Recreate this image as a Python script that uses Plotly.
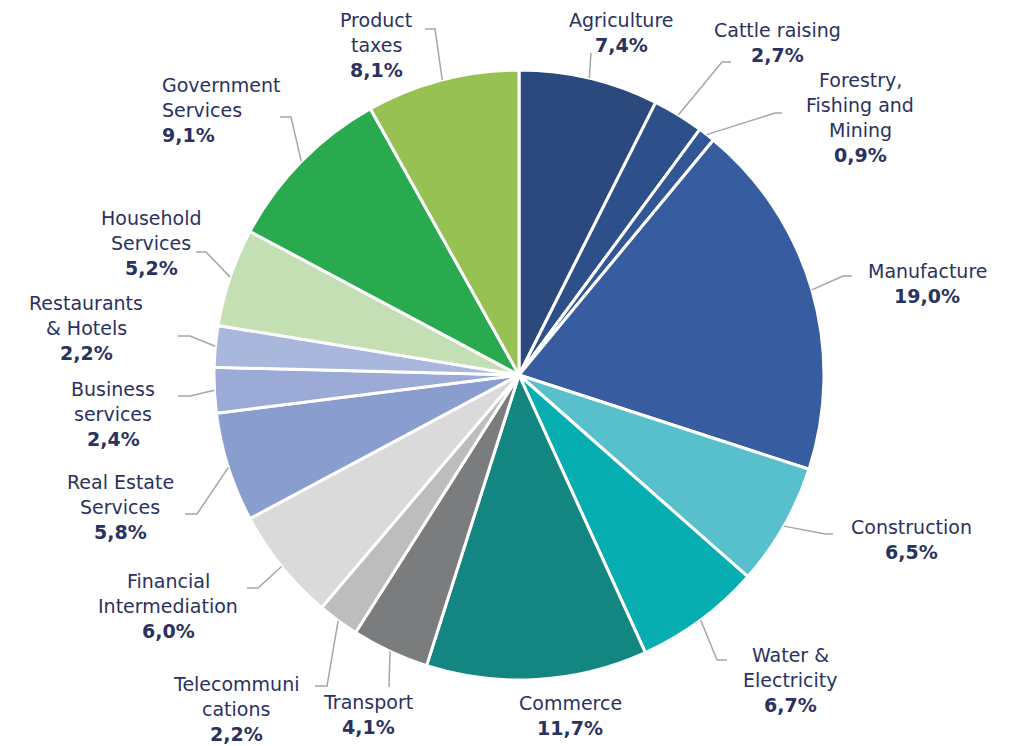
import math
import plotly.graph_objects as go

# ---- data ----
sectors = ["Agriculture", "Cattle raising", "Forestry, Fishing and Mining", "Manufacture",
           "Construction", "Water & Electricity", "Commerce", "Transport",
           "Telecommunications", "Financial Intermediation", "Real Estate Services",
           "Business services", "Restaurants & Hotels", "Household Services",
           "Government Services", "Product taxes"]
label_text = ["Agriculture", "Cattle raising", "Forestry,|Fishing and|Mining", "Manufacture",
              "Construction", "Water &|Electricity", "Commerce", "Transport",
              "Telecommuni|cations", "Financial|Intermediation", "Real Estate|Services",
              "Business|services", "Restaurants|& Hotels", "Household|Services",
              "Government|Services", "Product|taxes"]
shares = [7.4, 2.7, 0.9, 19.0, 6.5, 6.7, 11.7, 4.1, 2.2, 6.0, 5.8, 2.4, 2.2, 5.2, 9.1, 8.1]
pct_text = ["7,4%", "2,7%", "0,9%", "19,0%", "6,5%", "6,7%", "11,7%", "4,1%",
            "2,2%", "6,0%", "5,8%", "2,4%", "2,2%", "5,2%", "9,1%", "8,1%"]

# ---- style / layout ----
colors = ["#2C497D", "#2E508A", "#325696", "#375CA0", "#58C0CC", "#06ADB1", "#148682",
          "#7B7C7E", "#BDBDBD", "#D9DAD9", "#8A9DCF", "#9BAAD6", "#AAB7DD", "#C4DFB3",
          "#2AAA4F", "#98C153"]
W, H = 1016, 746
CX, CY, R = 519, 375, 305
TEXT_COLOR = "#2A3260"
LINE_COLOR = "#A6A6A6"
LINE_GAP = 25
FONT = "DejaVu Sans"
FSIZE = 19

# label anchor x (px), first-line centre y (px), alignment
label_x = [621, 777, 860, 927, 911, 790, 570, 368, 236, 168, 120, 113, 86, 151, 160, 376]
label_y0 = [20, 30, 80, 271, 527, 655, 703, 702, 684, 581, 482, 389, 303, 218, 85, 20]
label_align = ["center"] * 14 + ["left", "center"]
# leader line elbow and end (px); None = no leader
leader = [((591, 53), (591, 53)), ((722, 62), (731, 62)), ((775, 113), (782, 113)),
          ((843, 276), (852, 276)), ((825, 534), (833, 534)), ((717, 660), (727, 660)),
          None, ((389, 687), (389, 687)), ((327, 686), (315, 686)),
          ((258, 588), (247, 588)), ((197, 514), (185, 514)), ((190, 396), (178, 396)),
          ((190, 336), (178, 336)), ((206, 252), (196, 252)), ((291, 117), (280, 117)),
          ((435, 29), (425, 29))]


def px(x, y):
    return x / W, 1 - y / H


fig = go.Figure(go.Pie(
    labels=sectors, values=shares, sort=False, direction="clockwise", rotation=0,
    marker=dict(colors=colors, line=dict(color="white", width=3)),
    textinfo="none", hoverinfo="label+percent", showlegend=False,
    domain=dict(x=[(CX - R) / W, (CX + R) / W], y=[1 - (CY + R) / H, 1 - (CY - R) / H]),
))

total = sum(shares)
cum = 0.0
annotations = []
shapes = []
for i, v in enumerate(shares):
    mid = (cum + v / 2) / total
    cum += v
    th = 2 * math.pi * mid
    sx, sy = CX + R * math.sin(th), CY - R * math.cos(th)
    if leader[i] is not None:
        (ex, ey), (fx, fy) = leader[i]
        p0, p1, p2 = px(sx, sy), px(ex, ey), px(fx, fy)
        shapes.append(dict(type="path", xref="paper", yref="paper",
                           path=f"M {p0[0]} {p0[1]} L {p1[0]} {p1[1]} L {p2[0]} {p2[1]}",
                           line=dict(color=LINE_COLOR, width=1.5)))
    lines = label_text[i].split("|") + [f"<b>{pct_text[i]}</b>"]
    for k, t in enumerate(lines):
        ax, ay = px(label_x[i], label_y0[i] + k * LINE_GAP)
        annotations.append(dict(
            x=ax, y=ay, xref="paper", yref="paper", showarrow=False,
            xanchor="left" if label_align[i] == "left" else "center", yanchor="middle",
            text=t, font=dict(family=FONT, size=FSIZE, color=TEXT_COLOR),
        ))

fig.update_layout(
    width=W, height=H, margin=dict(l=0, r=0, t=0, b=0),
    paper_bgcolor="white", plot_bgcolor="white",
    annotations=annotations, shapes=shapes,
)
fig.write_html("out.html", config={"displayModeBar": False},
               post_script="document.body.style.margin='0';")
